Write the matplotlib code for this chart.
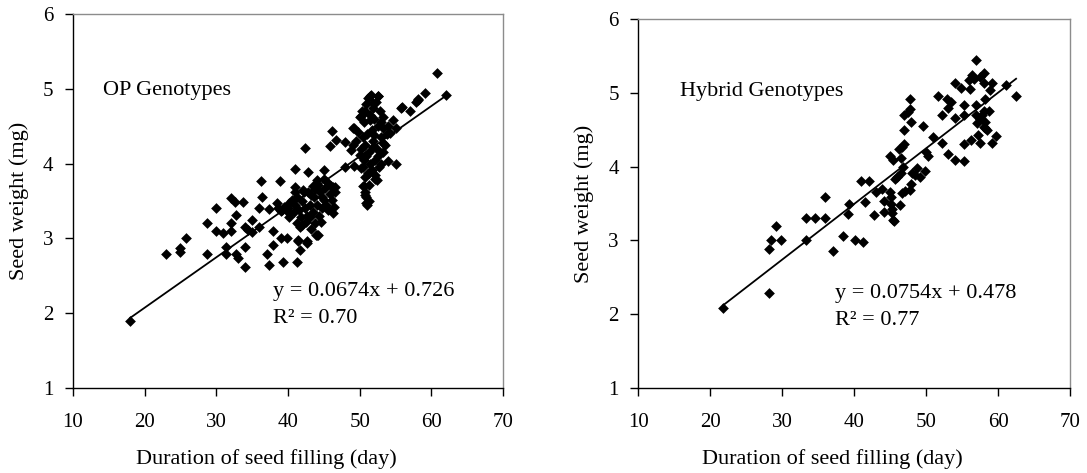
import matplotlib
matplotlib.use("Agg")
import matplotlib.pyplot as plt
import numpy as np

plt.rcParams['font.family'] = ['Liberation Serif', 'DejaVu Serif']

# ---- OP genotypes (duration of seed filling, seed weight) ----
op_x = [18.0, 23.0, 24.9, 24.9, 25.7, 28.7, 28.7, 29.9, 29.9, 30.9, 31.3, 31.3,
        32.1, 32.6, 32.1, 32.1, 32.7, 32.8, 33.0, 33.7, 34.0, 34.0, 34.0, 34.4,
        34.9, 34.9, 36.0, 36.0, 36.2, 36.3, 37.1, 37.4, 37.4, 37.9, 37.9, 38.4,
        38.6, 38.9, 39.0, 39.9, 39.3, 39.2, 40.2, 40.2, 40.9, 41.2, 40.9, 41.2,
        41.4, 41.6, 42.1, 42.3, 42.6, 42.8, 43.9, 45.0, 46.3, 46.3, 46.1, 45.9,
        46.7, 47.9, 47.9, 49.1, 49.2, 55.1, 54.0, 55.8, 57.0, 58.1, 59.1, 60.8,
        62.0, 58.2, 57.8, 55.9, 48.8, 41.0, 43.9, 46.5, 41.4, 42.6, 44.2,
        # dense cluster around 50-54 days
        50.0, 50.3, 50.6, 50.9, 51.2, 51.4, 51.6, 51.8, 52.0, 52.3, 52.6, 52.8,
        53.0, 53.3, 52.5, 51.7, 51.0, 50.5, 49.8, 49.2, 49.5, 50.2, 50.8, 51.3,
        51.9, 52.4, 52.9, 53.5, 53.8, 52.1, 51.5, 50.9, 51.7, 52.2, 50.4, 51.1,
        52.6, 51.4, 52.0, 50.6, 53.2, 54.0, 51.8, 50.1, 49.0, 52.4, 51.3, 50.7,
        53.0, 52.7, 54.7, 55.1, 54.2, 53.2, 53.2, 51.4, 52.6, 51.9, 50.7, 50.2,
        # column near 51 days
        50.6, 50.8, 50.9, 51.3, 51.0, 50.7, 50.9, 50.5, 52.1, 51.3, 50.2,
        # dense cluster around 40-47 days
        40.5, 41.0, 41.5, 41.3, 42.0, 42.4, 42.8, 43.2, 43.5, 43.8, 44.2, 44.5,
        44.8, 45.2, 45.5, 45.8, 46.2, 46.5, 44.0, 43.5, 43.0, 42.5, 42.0, 43.8,
        44.3, 44.8, 45.3, 43.2, 42.7, 41.8, 40.8, 40.2, 39.5, 39.0, 40.0, 44.0,
        43.6, 44.6, 45.0, 46.0, 42.2, 41.6, 45.6, 43.0, 44.1, 45.0, 46.4]
op_y = [1.90, 2.79, 2.87, 2.82, 3.00, 3.20, 2.79, 3.40, 3.10, 3.07, 2.89, 2.79,
        3.54, 3.49, 3.20, 3.10, 3.31, 2.79, 2.74, 3.48, 2.89, 2.62, 3.15, 3.11,
        3.25, 3.09, 3.40, 3.15, 3.77, 3.56, 2.79, 2.64, 3.39, 3.10, 2.91, 3.47,
        3.40, 3.77, 3.00, 3.00, 2.68, 3.38, 3.47, 3.34, 3.93, 2.69, 3.69, 3.20,
        2.98, 2.85, 3.65, 4.21, 2.94, 3.89, 3.05, 3.92, 3.34, 3.69, 4.43, 4.23,
        4.32, 4.29, 3.95, 4.47, 3.97, 4.00, 4.03, 4.74, 4.70, 4.85, 4.95, 5.21,
        4.92, 4.87, 4.83, 4.76, 4.18, 3.62, 3.72, 3.69, 2.96, 2.96, 3.05,
        4.62, 4.70, 4.55, 4.80, 4.88, 4.65, 4.92, 4.75, 4.60, 4.82, 4.90, 4.70,
        4.55, 4.48, 4.50, 4.45, 4.40, 4.35, 4.42, 4.48, 4.30, 4.20, 4.25, 4.15,
        4.30, 4.20, 4.35, 4.25, 4.40, 4.05, 4.00, 4.10, 3.92, 3.85, 3.95, 3.88,
        4.10, 4.58, 4.38, 4.05, 4.62, 4.50, 4.22, 4.12, 4.25, 3.78, 3.72, 3.82,
        4.00, 3.95, 4.58, 4.47, 4.41, 4.16, 4.27, 4.90, 4.90, 4.81, 4.70, 4.63,
        3.70, 3.62, 3.55, 3.50, 3.44, 3.58, 3.47, 3.70, 3.80, 3.87, 3.94,
        3.52, 3.45, 3.38, 3.55, 3.50, 3.40, 3.62, 3.58, 3.70, 3.66, 3.72, 3.62,
        3.55, 3.68, 3.75, 3.60, 3.52, 3.62, 3.45, 3.35, 3.28, 3.22, 3.18, 3.20,
        3.30, 3.40, 3.45, 3.12, 3.30, 3.28, 3.35, 3.28, 3.42, 3.36, 3.40, 3.05,
        3.55, 3.22, 3.52, 3.70, 3.62, 3.15, 3.38, 3.45, 3.78, 3.80, 3.42]

# ---- Hybrid genotypes ----
hy_x = [21.8, 28.1, 28.1, 28.4, 29.1, 29.9, 33.3, 33.3, 34.5, 36.0, 36.0, 37.0,
        38.4, 39.1, 39.3, 40.1, 41.2, 40.9, 42.0, 41.5, 42.8, 43.0, 43.8, 44.1,
        44.2, 45.0, 45.1, 45.1, 45.2, 45.3, 45.4, 45.5, 45.0, 45.4, 45.7, 46.0,
        46.2, 46.6, 46.9, 46.5, 46.8, 46.5, 46.4, 46.6, 47.0, 46.9, 46.9, 47.5,
        47.8, 47.7, 47.9, 47.7, 47.9, 48.1, 48.5, 48.8, 49.1, 49.9, 49.5, 50.0,
        50.3, 50.9, 51.7, 52.2, 52.2, 52.9, 53.0, 53.4, 53.0, 54.0, 54.0, 54.0,
        54.9, 55.2, 55.3, 55.2, 55.2, 55.9, 56.1, 56.2, 56.6, 56.4, 57.0, 56.9,
        57.1, 57.2, 57.5, 57.5, 57.7, 58.0, 58.0, 58.2, 58.0, 58.2, 58.2, 58.4,
        58.0, 58.7, 58.9, 59.2, 59.2, 59.7, 61.1, 62.5, 57.0, 57.5]
hy_y = [2.09, 2.29, 2.89, 3.00, 3.20, 3.00, 3.00, 3.31, 3.31, 3.59, 3.31, 2.85,
        3.06, 3.36, 3.49, 3.00, 2.98, 3.80, 3.80, 3.52, 3.35, 3.65, 3.69, 3.53,
        3.38, 3.65, 3.59, 3.50, 3.43, 3.37, 3.28, 3.26, 4.15, 4.09, 3.83, 3.86,
        4.24, 4.27, 4.30, 4.11, 4.00, 3.91, 3.48, 3.64, 3.67, 4.50, 4.70, 4.74,
        4.78, 4.91, 4.60, 3.68, 3.77, 3.91, 3.89, 3.98, 3.86, 3.94, 4.55, 4.20,
        4.15, 4.40, 4.96, 4.70, 4.32, 4.91, 4.79, 4.88, 4.17, 5.13, 4.66, 4.09,
        5.06, 4.70, 4.84, 4.30, 4.07, 5.17, 5.05, 4.36, 5.19, 5.24, 5.44, 4.70,
        4.59, 4.43, 4.32, 5.22, 4.70, 5.27, 5.13, 4.91, 4.75, 4.61, 4.52, 4.50,
        4.54, 4.75, 5.04, 5.13, 4.32, 4.41, 5.10, 4.96, 4.84, 4.64]

op_fit = (0.0674, 0.726)
hy_fit = (0.0754, 0.478)
op_label = "OP Genotypes"
hy_label = "Hybrid Genotypes"
op_eq = ["y = 0.0674x + 0.726", "R² = 0.70"]
hy_eq = ["y = 0.0754x + 0.478", "R² = 0.77"]
x_ticks = [10, 20, 30, 40, 50, 60, 70]
y_ticks = [1, 2, 3, 4, 5, 6]

fig = plt.figure(figsize=(10.87, 4.73), dpi=100)
ax1 = fig.add_axes([0.0672, 0.1797, 0.3956, 0.7907])
ax2 = fig.add_axes([0.5872, 0.1797, 0.3972, 0.7801])

TFS = 15   # tick labels
LFS = 16   # axis labels / annotations

def style(ax, xs, ys, fit, label, eq, lx, ly, ex, ey):
    ax.scatter(xs, ys, marker='D', s=30, color='black', zorder=3, linewidths=0)
    xr = np.array([min(xs), max(xs)])
    ax.plot(xr, fit[0] * xr + fit[1], color='black', lw=1.3, zorder=2)
    ax.set_xlim(10, 70)
    ax.set_ylim(1, 6)
    ax.set_xticks(x_ticks)
    ax.set_yticks(y_ticks)
    ax.tick_params(direction='out', length=6, width=1, labelsize=TFS)
    ax.tick_params(axis='x', pad=12)
    ax.tick_params(axis='y', pad=8)
    for s in ['top', 'right']:
        ax.spines[s].set_color('#8c8c8c')
        ax.spines[s].set_linewidth(1)
    for s in ['left', 'bottom']:
        ax.spines[s].set_color('black')
        ax.spines[s].set_linewidth(1)
    ax.set_xlabel("Duration of seed filling (day)", fontsize=LFS, labelpad=12, x=0.45)
    ax.set_ylabel("Seed weight (mg)", fontsize=LFS, labelpad=10)
    ax.text(lx, ly, label, fontsize=LFS, ha='left', va='center')
    ax.text(ex, ey, eq[0], fontsize=LFS, ha='left', va='center')
    ax.text(ex, ey - 0.36, eq[1], fontsize=LFS, ha='left', va='center')

style(ax1, op_x, op_y, op_fit, op_label, op_eq, 14.2, 4.98, 37.9, 2.29)
style(ax2, hy_x, hy_y, hy_fit, hy_label, hy_eq, 15.8, 5.02, 37.3, 2.28)

fig.savefig("out.png", dpi=100)
